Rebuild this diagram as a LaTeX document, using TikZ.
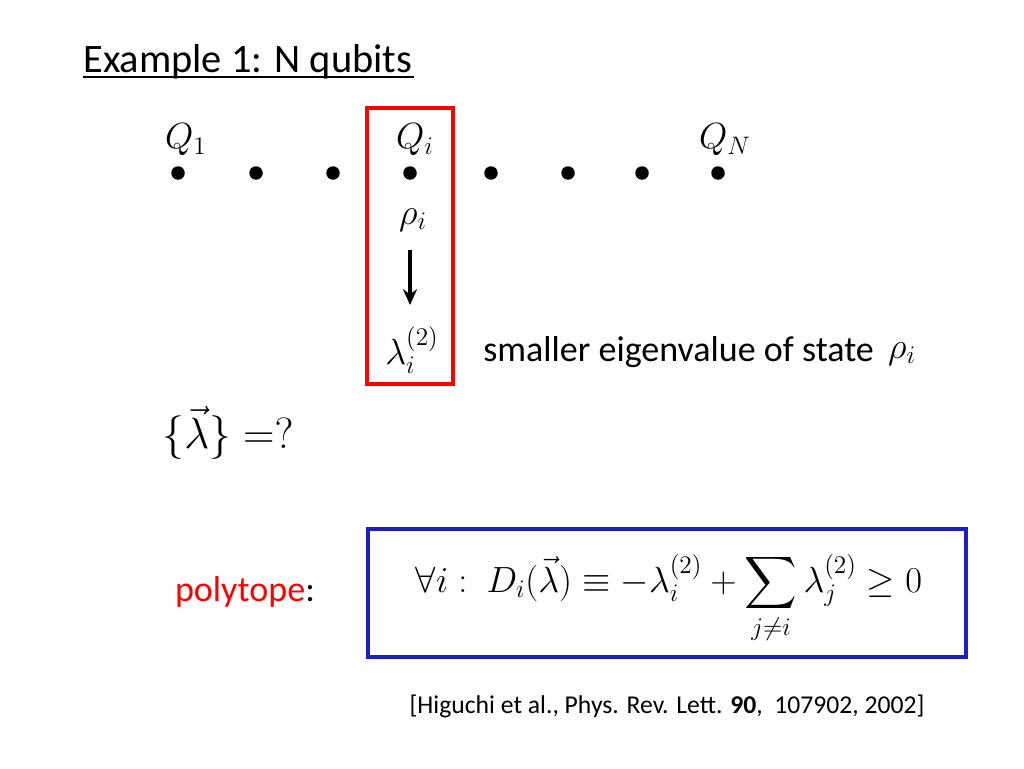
\documentclass[tikz,border=0pt]{standalone}
\usepackage{amsmath}
\usepackage{fontspec}
\setmainfont{Carlito}
\usetikzlibrary{arrows.meta}
\begin{document}
\begin{tikzpicture}[x=0.02cm,y=-0.02cm,
  dot/.style={circle,fill=black,inner sep=0pt,minimum size=0.27cm},
  mth/.style={font=\fontsize{22}{26}\selectfont},
  txt/.style={font=\fontsize{20.5}{24}\selectfont}]
\useasboundingbox (0,0) rectangle (1024,768);
\node[font=\fontsize{23}{27}\selectfont,anchor=west,inner sep=0pt] (title) at (83,62) {Example 1: N qubits};
\draw[line width=0.8pt] (83,77) -- (414,77);
\foreach \x [count=\i] in {178,256,333,410,491,568,642,718}
  \node[dot] (d\i) at (\x,173) {};
\node[mth] (q1) at (186,140) {$Q_1$};
\node[mth] (qi) at (415,140) {$Q_i$};
\node[mth] (qn) at (725,140) {$Q_N$};
\node[mth] (rho) at (413,220) {$\rho_i$};
\node[mth] (lam) at (412,350) {$\lambda_i^{(2)}$};
\coordinate (as) at (410,250);
\coordinate (ae) at (410,305);
\draw[-{Stealth[length=9pt,width=8pt]},line width=2pt] (as) -- (ae);
\node[draw=red,line width=1.8pt,minimum width=1.72cm,minimum height=5.52cm,inner sep=0pt] (rbox) at (410,246) {};
\node[txt,anchor=west,inner sep=0pt] (sm) at (483,352) {smaller eigenvalue of state};
\node[mth] (rho2) at (902,354) {$\rho_i$};
\node[font=\fontsize{23}{27}\selectfont] (set) at (228,433) {$\{\vec{\lambda}\}=?$};
\node[txt] (poly) at (245,592) {\textcolor{red}{polytope}:};
\node[draw={rgb,255:red,30;green,30;blue,200},line width=1.8pt,minimum width=11.96cm,minimum height=2.56cm,inner sep=0pt] (bbox) at (667,593) {};
\node[font=\fontsize{22.4}{26}\selectfont] (form) at (669,599) {$\forall i:\ D_i(\vec{\lambda})\equiv -\lambda_i^{(2)}+\displaystyle\sum_{j\neq i}\lambda_j^{(2)}\geq 0$};
\node[font=\fontsize{14.6}{17}\selectfont] (cite) at (667,706) {[Higuchi et al., Phys. Rev. Lett. \textbf{90},\ \ 107902, 2002]};
\end{tikzpicture}
\end{document}
